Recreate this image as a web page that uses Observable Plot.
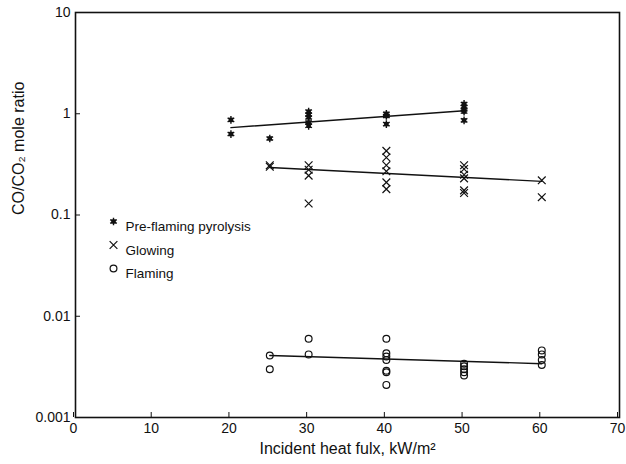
<!DOCTYPE html>
<html>
<head>
<meta charset="utf-8">
<script src="https://cdn.jsdelivr.net/npm/d3@7"></script>
<script src="https://cdn.jsdelivr.net/npm/@observablehq/plot@0.6"></script>
<style>
  html, body { margin: 0; padding: 0; background: #fff; }
  #chart { width: 626px; height: 464px; }
</style>
</head>
<body>
<div id="chart"></div>
<script>
// ---- data ----
const pyroX = [20, 20, 25, 30, 30, 30, 30, 30, 40, 40, 40, 50, 50, 50, 50, 50];
const pyroY = [0.87, 0.63, 0.57, 1.05, 0.98, 0.92, 0.82, 0.76, 1.0, 0.95, 0.79, 1.25, 1.17, 1.1, 1.05, 0.86];

const glowX = [25, 25, 30, 30, 30, 30, 40, 40, 40, 40, 40, 40, 50, 50, 50, 50, 50, 50, 60, 60];
const glowY = [0.31, 0.30, 0.31, 0.28, 0.245, 0.13, 0.43, 0.37, 0.31, 0.27, 0.21, 0.18, 0.31, 0.285, 0.25, 0.23, 0.175, 0.165, 0.22, 0.15];

const flameX = [25, 25, 30, 30, 40, 40, 40, 40, 40, 40, 40, 50, 50, 50, 50, 50, 60, 60, 60, 60];
const flameY = [0.0041, 0.0030, 0.0060, 0.0042, 0.0060, 0.0043, 0.0040, 0.0037, 0.0029, 0.0028, 0.0021, 0.0034, 0.0032, 0.0030, 0.0028, 0.0026, 0.0046, 0.0042, 0.0037, 0.0033];

// fitted lines (end points)
const pyroLineX = [20, 50];
const pyroLineY = [0.73, 1.07];
const glowLineX = [25, 60];
const glowLineY = [0.295, 0.215];
const flameLineX = [25, 60];
const flameLineY = [0.0041, 0.0034];

const xTicks = [0, 10, 20, 30, 40, 50, 60, 70];
const yTicks = [10, 1, 0.1, 0.01, 0.001];
const legendLabels = ["Pre-flaming pyrolysis", "Glowing", "Flaming"];
const xTitle = "Incident heat fulx, kW/m\u00b2";
const yTitle = "CO/CO\u2082 mole ratio";

// ---- build tables ----
const zip = (xs, ys) => xs.map((x, i) => ({x, y: ys[i]}));
const pyro = zip(pyroX, pyroY);
const glow = zip(glowX, glowY);
const flame = zip(flameX, flameY);

const legendMarks = [];
legendLabels.forEach((label, i) => {
  const dy = 209 + i * 23.5;
  if (i === 0) {
    legendMarks.push(Plot.dot([label], {frameAnchor: "top-left", dx: 38, dy, symbol: "square", r: 2.5, fill: "#111", stroke: "none"}));
    legendMarks.push(Plot.dot([label], {frameAnchor: "top-left", dx: 38, dy, symbol: "asterisk", r: 3.6, stroke: "#111", strokeWidth: 1.4}));
  } else if (i === 1) {
    legendMarks.push(Plot.dot([label], {frameAnchor: "top-left", dx: 38, dy, symbol: "times", r: 3.6, stroke: "#111", strokeWidth: 1.2}));
  } else {
    legendMarks.push(Plot.dot([label], {frameAnchor: "top-left", dx: 38, dy, symbol: "circle", r: 3.4, stroke: "#111", strokeWidth: 1.2, fill: "none"}));
  }
  legendMarks.push(Plot.text([label], {frameAnchor: "top-left", dx: 50, dy, text: d => d, textAnchor: "start", fontSize: 13.5, fill: "#111"}));
});

const chart = Plot.plot({
  width: 626,
  height: 464,
  marginLeft: 75,
  marginRight: 7,
  marginTop: 12,
  marginBottom: 47,
  style: {fontFamily: "'Liberation Sans', Arial, Helvetica, sans-serif", color: "#111", background: "#fff"},
  x: {domain: [0, 70], label: null},
  y: {type: "log", domain: [0.001, 10], label: null},
  marks: [
    Plot.frame({stroke: "#111", strokeWidth: 1.6}),
    Plot.axisX({ticks: xTicks, tickSize: -5, tickPadding: 11, fontSize: 14, dx: -2, label: null, tickFormat: d => String(d)}),
    Plot.axisY({ticks: yTicks, tickSize: -5, tickPadding: 10, fontSize: 14, label: null, tickFormat: d => String(d)}),
    Plot.line(zip(pyroLineX, pyroLineY), {x: "x", y: "y", stroke: "#111", strokeWidth: 1.4}),
    Plot.line(zip(glowLineX, glowLineY), {x: "x", y: "y", stroke: "#111", strokeWidth: 1.4}),
    Plot.line(zip(flameLineX, flameLineY), {x: "x", y: "y", stroke: "#111", strokeWidth: 1.4}),
    Plot.dot(pyro, {x: "x", y: "y", symbol: "square", r: 2.5, fill: "#111", stroke: "none"}),
    Plot.dot(pyro, {x: "x", y: "y", symbol: "asterisk", r: 3.6, stroke: "#111", strokeWidth: 1.4}),
    Plot.dot(glow, {x: "x", y: "y", symbol: "times", r: 3.6, stroke: "#111", strokeWidth: 1.2}),
    Plot.dot(flame, {x: "x", y: "y", symbol: "circle", r: 3.4, stroke: "#111", strokeWidth: 1.2, fill: "none"}),
    ...legendMarks,
    Plot.text([xTitle], {frameAnchor: "bottom", dy: 31, text: d => d, fontSize: 16, lineAnchor: "middle", fill: "#111"}),
    Plot.text([yTitle], {frameAnchor: "left", dx: -57, rotate: -90, text: d => d, fontSize: 16, lineAnchor: "middle", fill: "#111"})
  ]
});
document.getElementById("chart").appendChild(chart);
</script>
</body>
</html>
